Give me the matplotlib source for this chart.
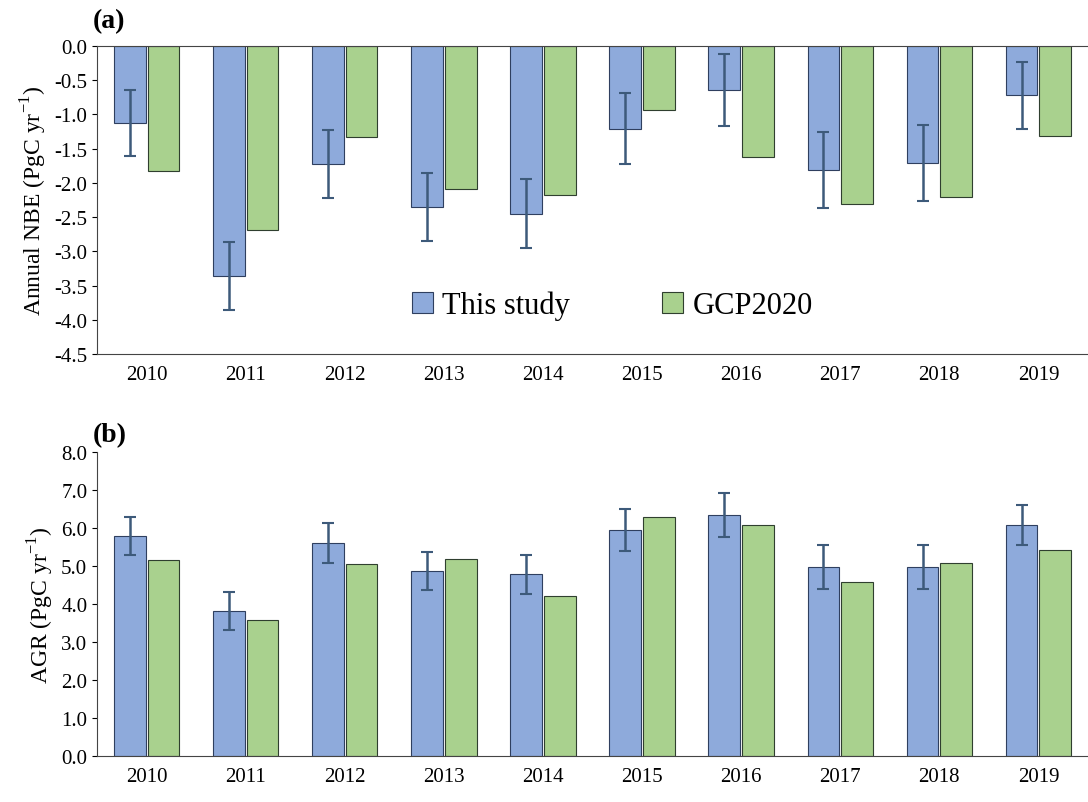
import matplotlib
matplotlib.use("Agg")
import matplotlib.pyplot as plt
import numpy as np

years = [str(y) for y in range(2010, 2020)]
nbe_this = [-1.13, -3.36, -1.72, -2.35, -2.45, -1.21, -0.64, -1.81, -1.71, -0.72]
nbe_err = [0.48, 0.50, 0.50, 0.50, 0.50, 0.52, 0.53, 0.55, 0.56, 0.49]
nbe_gcp = [-1.83, -2.69, -1.33, -2.09, -2.18, -0.94, -1.62, -2.31, -2.21, -1.32]
agr_this = [5.80, 3.82, 5.60, 4.87, 4.78, 5.95, 6.34, 4.98, 4.98, 6.08]
agr_err = [0.50, 0.50, 0.52, 0.50, 0.52, 0.55, 0.58, 0.58, 0.58, 0.52]
agr_gcp = [5.16, 3.58, 5.05, 5.18, 4.21, 6.29, 6.08, 4.58, 5.08, 5.42]

plt.rcParams['font.family'] = ['Liberation Serif', 'DejaVu Serif']
plt.rcParams['mathtext.fontset'] = 'custom'
plt.rcParams['mathtext.rm'] = 'Liberation Serif'
blue, green = '#8eaadb', '#a9d18e'
fig = plt.figure(figsize=(10.88, 8.03), dpi=100)
W, H = 1088, 803
axa = fig.add_axes([97/W, 1-355/H, (1088-97)/W, 308/H])
axb = fig.add_axes([97/W, 1-757/H, (1088-97)/W, 304/H])
x = np.arange(len(years))
w = 0.32
for ax, a, e, g in [(axa, nbe_this, nbe_err, nbe_gcp), (axb, agr_this, agr_err, agr_gcp)]:
    ax.bar(x - w/2 - 0.01, a, w, color=blue, edgecolor='#2f3f5f', linewidth=0.8, label='This study',
           yerr=e, error_kw=dict(ecolor='#3d5a7a', elinewidth=1.8, capsize=4, capthick=1.5))
    ax.bar(x + w/2 + 0.01, g, w, color=green, edgecolor='#2f3f2f', linewidth=0.8, label='GCP2020')
    ax.set_xticks(x)
    ax.set_xticklabels(years, fontsize=15)
    ax.set_xlim(-0.5, 9.5)
    ax.tick_params(axis='y', labelsize=15, direction='out')
    ax.tick_params(axis='x', length=0, pad=8)
    ax.spines['right'].set_visible(False)
    for s in ax.spines.values():
        s.set_color('#444444')

axa.set_ylim(-4.5, 0)
axa.set_yticks(np.arange(-4.5, 0.01, 0.5))
axa.set_yticklabels([f"{v:.1f}" for v in np.arange(-4.5, 0.01, 0.5)])
axa.set_ylabel(r'Annual NBE (PgC yr$^{\mathrm{-1}}$)', fontsize=17)
axa.legend(loc='lower center', bbox_to_anchor=(0.52, 0.02), ncol=2, frameon=False, fontsize=22,
           handlelength=0.7, handleheight=0.7, columnspacing=3, handletextpad=0.3)
axb.set_ylim(0, 8)
axb.set_yticks(np.arange(0, 8.01, 1))
axb.set_yticklabels([f"{v:.1f}" for v in np.arange(0, 8.01, 1)])
axb.spines['top'].set_visible(False)
axb.set_ylabel(r'AGR (PgC yr$^{\mathrm{-1}}$)', fontsize=17)
fig.text(93/W, 1-22/H, '(a)', fontsize=20, fontweight='bold', va='center')
fig.text(93/W, 1-436/H, '(b)', fontsize=20, fontweight='bold', va='center')
fig.savefig('out.png', dpi=100)
